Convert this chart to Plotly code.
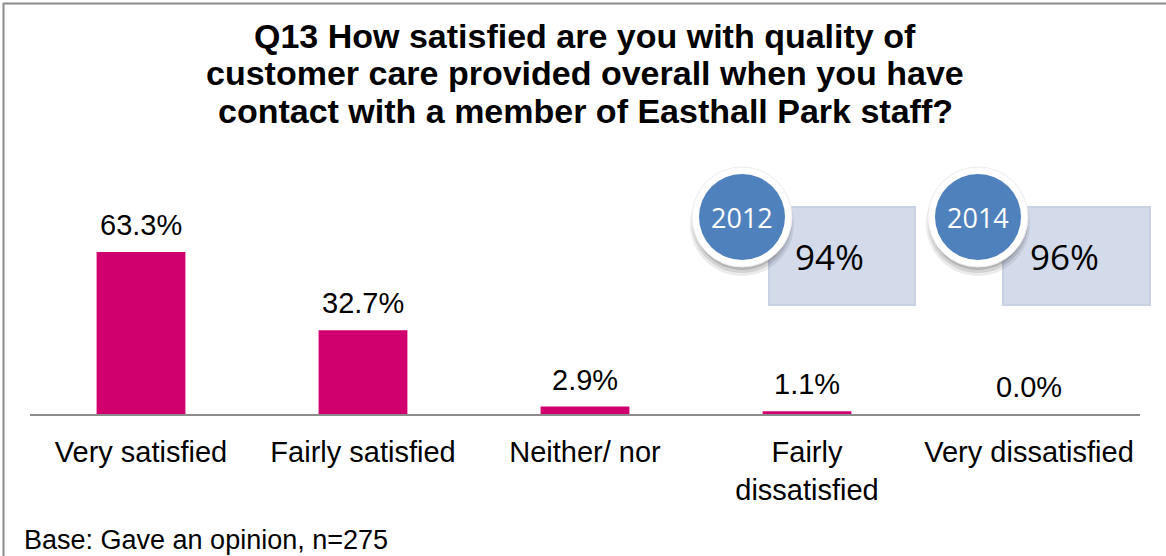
import plotly.graph_objects as go

# Survey responses for Q13
categories = ["Very satisfied", "Fairly satisfied", "Neither/ nor",
              "Fairly<br>dissatisfied", "Very dissatisfied"]
values = [63.3, 32.7, 2.9, 1.1, 0.0]

title_lines = [
    "Q13 How satisfied are you with quality of",
    "customer care provided overall when you have",
    "contact with a member of Easthall Park staff?",
]

# Overall satisfaction by survey year
years = ["2012", "2014"]
year_totals = ["94%", "96%"]

base_note = "Base: Gave an opinion, n=275"

W, H = 1166, 556
L, R, T, B = 30, 26, 158, 142
PW, PH = W - L - R, H - T - B


def px_x(px):
    return (px - L) / PW


def px_y(py):
    return (H - B - py) / PH


BAR_COLOR = "#d0006f"
FONT = "Liberation Sans, Arial, sans-serif"
CALLOUT_FONT = "Open Sans, Noto Sans, sans-serif"

fig = go.Figure()
fig.add_trace(go.Bar(
    x=categories, y=values, width=0.4,
    marker=dict(color=BAR_COLOR, line=dict(width=0)),
    hoverinfo="skip",
))

annotations = []
for cat, v in zip(categories, values):
    annotations.append(dict(
        x=cat, y=v, xref="x", yref="y", text=f"{v:.1f}%",
        showarrow=False, yanchor="middle", yshift=27,
        font=dict(family=FONT, size=29, color="#000"),
    ))

# Title lines
for i, line in enumerate(title_lines):
    annotations.append(dict(
        x=px_x(585), y=px_y(35.5 + 37.5 * i), xref="paper", yref="paper",
        text=f"<b>{line}</b>", showarrow=False,
        xanchor="center", yanchor="middle",
        font=dict(family=FONT, size=34, color="#000"),
    ))

annotations.append(dict(
    x=px_x(22), y=px_y(540), xref="paper", yref="paper", text=base_note,
    showarrow=False, xanchor="left", yanchor="middle",
    font=dict(family=FONT, size=27, color="#000"),
))

shapes = []
# Frame on the top and left edges
shapes.append(dict(type="line", xref="paper", yref="paper",
                   x0=px_x(3), x1=px_x(1170), y0=px_y(3.5), y1=px_y(3.5),
                   line=dict(color="#8c8c8c", width=2)))
shapes.append(dict(type="line", xref="paper", yref="paper",
                   x0=px_x(3.5), x1=px_x(3.5), y0=px_y(3), y1=px_y(560),
                   line=dict(color="#8c8c8c", width=2)))

# Year callouts: pale box with a ringed blue badge
callouts = [
    dict(box=(769, 207, 915, 305), circle=(742, 217), total=(829, 256)),
    dict(box=(1003, 207, 1150, 305), circle=(978, 217), total=(1064, 256)),
]
for yr, tot, c in zip(years, year_totals, callouts):
    x0, y0, x1, y1 = c["box"]
    shapes.append(dict(type="rect", xref="paper", yref="paper",
                       x0=px_x(x0), x1=px_x(x1), y0=px_y(y0), y1=px_y(y1),
                       fillcolor="#d3dbea",
                       line=dict(color="#c9d2e4", width=2), layer="above"))
    cx, cy = c["circle"]
    # soft drop shadow
    for r, dy, op in [(52, 7, 0.08), (50, 6, 0.10), (48, 5, 0.14)]:
        shapes.append(dict(type="circle", xref="paper", yref="paper",
                           xsizemode="pixel", ysizemode="pixel",
                           xanchor=px_x(cx), yanchor=px_y(cy + dy),
                           x0=-r, x1=r, y0=-r, y1=r,
                           fillcolor=f"rgba(0,0,0,{op})",
                           line=dict(width=0), layer="above"))
    shapes.append(dict(type="circle", xref="paper", yref="paper",
                       xsizemode="pixel", ysizemode="pixel",
                       xanchor=px_x(cx), yanchor=px_y(cy),
                       x0=-50, x1=50, y0=-50, y1=50,
                       fillcolor="#ffffff", line=dict(color="#ececec", width=1),
                       layer="above"))
    shapes.append(dict(type="circle", xref="paper", yref="paper",
                       xsizemode="pixel", ysizemode="pixel",
                       xanchor=px_x(cx), yanchor=px_y(cy),
                       x0=-43, x1=43, y0=-43, y1=43,
                       fillcolor="#4f81bd", line=dict(width=0), layer="above"))
    annotations.append(dict(
        x=px_x(cx), y=px_y(cy), xref="paper", yref="paper", text=yr,
        showarrow=False, xanchor="center", yanchor="middle",
        font=dict(family=CALLOUT_FONT, size=27, color="#ffffff"),
    ))
    tx, ty = c["total"]
    annotations.append(dict(
        x=px_x(tx), y=px_y(ty), xref="paper", yref="paper", text=tot,
        showarrow=False, xanchor="center", yanchor="middle",
        font=dict(family=CALLOUT_FONT, size=35, color="#000000"),
    ))

fig.update_layout(
    width=W, height=H,
    margin=dict(l=L, r=R, t=T, b=B, pad=0),
    paper_bgcolor="#ffffff", plot_bgcolor="#ffffff",
    showlegend=False,
    bargap=0.6,
    xaxis=dict(
        type="category", range=[-0.5, 4.5],
        showline=True, linecolor="#8c8c8c", linewidth=2,
        showgrid=False, ticks="", zeroline=False,
        tickfont=dict(family=FONT, size=29, color="#000"),
        ticklabelstandoff=11,
        fixedrange=True,
    ),
    yaxis=dict(
        range=[0, 100], visible=False, showgrid=False, zeroline=False,
        fixedrange=True,
    ),
    annotations=annotations,
    shapes=shapes,
)

fig.write_html("out.html")
